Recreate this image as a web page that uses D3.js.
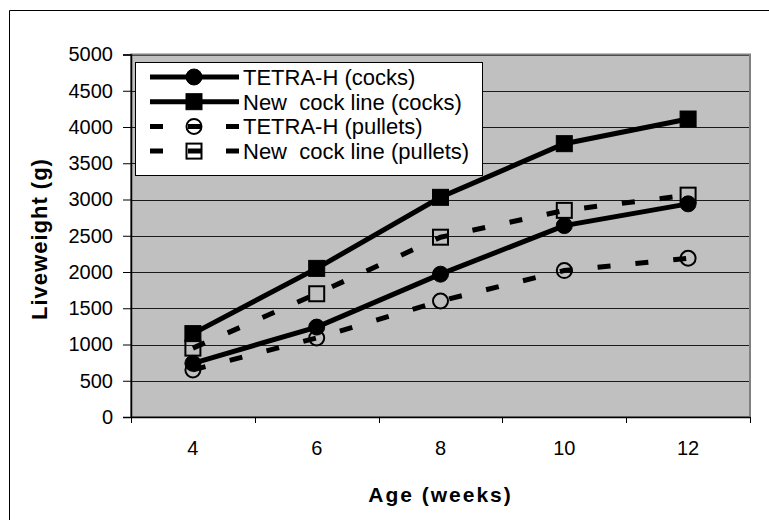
<!DOCTYPE html>
<html>
<head>
<meta charset="utf-8">
<script src="https://cdn.jsdelivr.net/npm/d3@7"></script>
<style>
  html, body { margin: 0; padding: 0; background: #fff; }
  svg { display: block; font-family: "Liberation Sans", Arial, sans-serif; }
  .pre { white-space: pre; }
</style>
</head>
<body>
<svg id="chart" width="769" height="520"></svg>
<script>
// ---- data ----
const ages = ["4", "6", "8", "10", "12"];
const tetraCocks = [740, 1240, 1970, 2640, 2940];
const newLineCocks = [1150, 2050, 3030, 3770, 4110];
const tetraPullets = [650, 1090, 1600, 2020, 2190];
const newLinePullets = [950, 1700, 2480, 2850, 3060];
const yTicks = [0, 500, 1000, 1500, 2000, 2500, 3000, 3500, 4000, 4500, 5000];
const seriesNames = ["TETRA-H (cocks)", "New  cock line (cocks)", "TETRA-H (pullets)", "New  cock line (pullets)"];

const series = [
  { name: seriesNames[0], values: tetraCocks, shape: "circle", filled: true, dashed: false },
  { name: seriesNames[1], values: newLineCocks, shape: "square", filled: true, dashed: false },
  { name: seriesNames[2], values: tetraPullets, shape: "circle", filled: false, dashed: true },
  { name: seriesNames[3], values: newLinePullets, shape: "square", filled: false, dashed: true }
];

// ---- layout ----
const svg = d3.select("#chart");
const L = 131, R = 750, T = 54.5, B = 417;
const x = d3.scaleBand().domain(ages).range([L, R]);
const y = d3.scaleLinear().domain([0, 5000]).range([B, T]);
const cx = d => x(d) + x.bandwidth() / 2;

// outer border (top and left visible)
svg.append("path").attr("d", "M9.5,530V10.5H780").attr("fill", "none").attr("stroke", "#000").attr("stroke-width", 1);

// plot background
svg.append("rect").attr("x", L).attr("y", T).attr("width", R - L).attr("height", B - T)
  .attr("fill", "#c0c0c0");

// gridlines
svg.append("g").selectAll("line").data(yTicks.filter(v => v > 0)).join("line")
  .attr("x1", L).attr("x2", R).attr("y1", d => Math.round(y(d)) + 0.5).attr("y2", d => Math.round(y(d)) + 0.5)
  .attr("stroke", "#1a1a1a").attr("stroke-width", 1);

// plot border
svg.append("rect").attr("x", L).attr("y", T).attr("width", R - L).attr("height", B - T)
  .attr("fill", "none").attr("stroke", "#808080").attr("stroke-width", 2);

// lines
const line = d3.line().x((d, i) => cx(ages[i])).y(d => y(d));
series.forEach(s => {
  svg.append("path").datum(s.values).attr("d", line)
    .attr("fill", "none").attr("stroke", "#000").attr("stroke-width", 5)
    .attr("stroke-dasharray", s.dashed ? "13,25" : null);
});

function drawMarker(g, shape, filled, px, py) {
  if (shape === "circle") {
    g.append("circle").attr("cx", px).attr("cy", py).attr("r", filled ? 8 : 7.5)
      .attr("fill", filled ? "#000" : "none").attr("stroke", "#000").attr("stroke-width", filled ? 1 : 2);
  } else {
    const s = filled ? 16 : 15;
    g.append("rect").attr("x", px - s / 2).attr("y", py - s / 2).attr("width", s).attr("height", s)
      .attr("fill", filled ? "#000" : "none").attr("stroke", "#000").attr("stroke-width", filled ? 1 : 2);
  }
}

const mg = svg.append("g");
series.forEach(s => {
  s.values.forEach((v, i) => drawMarker(mg, s.shape, s.filled, cx(ages[i]), y(v)));
});

// y axis
const yAxis = svg.append("g").attr("transform", `translate(${L},0)`)
  .call(d3.axisLeft(y).tickValues(yTicks).tickSize(8).tickPadding(10).tickFormat(d3.format("d")));
yAxis.select(".domain").attr("stroke", "#000").attr("stroke-width", 1.5);
yAxis.selectAll(".tick line").attr("stroke", "#000");
yAxis.selectAll("text").attr("font-size", 20).attr("fill", "#000")
  .attr("font-family", "Liberation Sans, Arial, sans-serif");

// x axis
const xAxis = svg.append("g").attr("transform", `translate(0,${B})`)
  .call(d3.axisBottom(x).tickSize(0).tickPadding(24));
xAxis.select(".domain").attr("stroke", "#000").attr("stroke-width", 1.5);
xAxis.selectAll("text").attr("font-size", 20).attr("fill", "#000")
  .attr("font-family", "Liberation Sans, Arial, sans-serif");
// category boundary ticks
const bounds = ages.map(a => x(a)).concat([R]);
svg.append("g").selectAll("line").data(bounds).join("line")
  .attr("x1", d => Math.round(d) + 0.5).attr("x2", d => Math.round(d) + 0.5)
  .attr("y1", B).attr("y2", B + 6).attr("stroke", "#000").attr("stroke-width", 1);

// axis titles
svg.append("text").attr("x", (L + R) / 2).attr("y", 502).attr("text-anchor", "middle")
  .attr("font-size", 21).attr("font-weight", "bold").attr("letter-spacing", 2).text("Age (weeks)");
svg.append("text").attr("transform", `translate(47,239) rotate(-90)`)
  .attr("text-anchor", "middle").attr("font-size", 22).attr("font-weight", "bold")
  .attr("letter-spacing", 1).text("Liveweight (g)");

// legend
const lg = svg.append("g");
lg.append("rect").attr("x", 135.5).attr("y", 62.5).attr("width", 347).attr("height", 113)
  .attr("fill", "#fff").attr("stroke", "#000").attr("stroke-width", 1);
series.forEach((s, i) => {
  const ly = 77 + i * 24.7;
  lg.append("line").attr("x1", 150).attr("x2", 239).attr("y1", ly).attr("y2", ly)
    .attr("stroke", "#000").attr("stroke-width", 5).attr("stroke-dasharray", s.dashed ? "13,25" : null);
  drawMarker(lg, s.shape, s.filled, 194, ly);
  lg.append("text").attr("class", "pre").attr("x", 243).attr("y", ly).attr("dy", "0.36em")
    .attr("font-size", 22).attr("fill", "#000").text(s.name);
});
</script>
</body>
</html>
